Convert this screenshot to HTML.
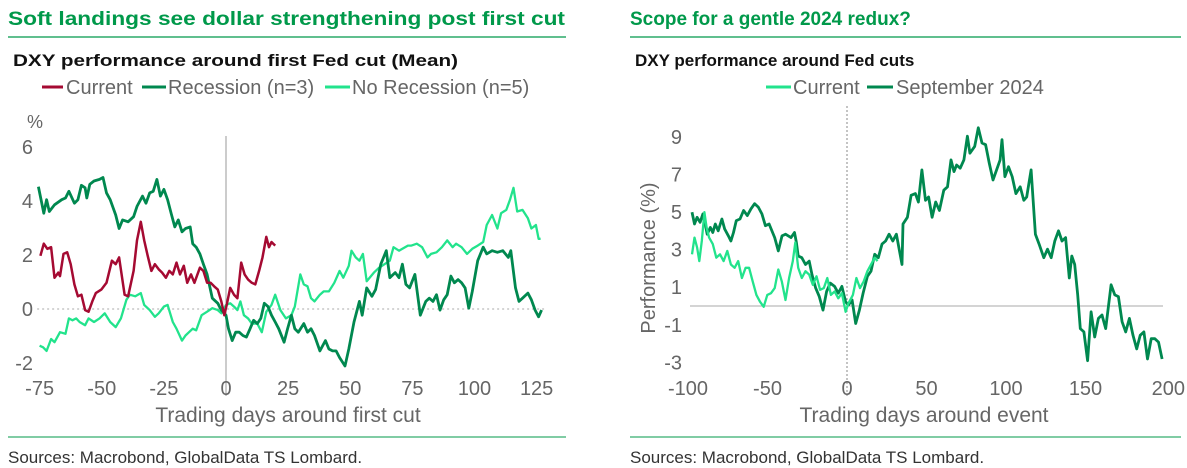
<!DOCTYPE html>
<html><head><meta charset="utf-8"><style>
body{margin:0;background:#fff;width:1187px;height:468px;overflow:hidden;font-family:"Liberation Sans",sans-serif;}
svg{position:absolute;left:0;top:0}
</style></head><body>
<svg width="1187" height="468" id="svg" font-family="Liberation Sans, sans-serif">
<g>
<text x="8" y="25" font-size="19" font-weight="bold" fill="#00994a" textLength="557" lengthAdjust="spacingAndGlyphs">Soft landings see dollar strengthening post first cut</text>
<line x1="8" y1="37" x2="566" y2="37" stroke="#00994a" stroke-width="1.2"/>
<text x="13" y="66" font-size="17" font-weight="bold" fill="#111" textLength="445" lengthAdjust="spacingAndGlyphs">DXY performance around first Fed cut (Mean)</text>
<g font-size="20" fill="#666">
<line x1="42" y1="87" x2="63" y2="87" stroke="#a50a32" stroke-width="3"/>
<text x="66" y="94">Current</text>
<line x1="142" y1="87" x2="166" y2="87" stroke="#00884f" stroke-width="3"/>
<text x="168" y="94">Recession (n=3)</text>
<line x1="325" y1="87" x2="350" y2="87" stroke="#22e38c" stroke-width="3"/>
<text x="352" y="94">No Recession (n=5)</text>
</g>
<text x="27" y="128" font-size="18" fill="#666">%</text>
<g id="L"></g>
<text x="288" y="422" text-anchor="middle" font-size="21" fill="#666">Trading days around first cut</text>
<line x1="8" y1="437" x2="566" y2="437" stroke="#00994a" stroke-width="1"/>
<text x="8" y="463" font-size="17" fill="#333">Sources: Macrobond, GlobalData TS Lombard.</text>
</g>
<g>
<text x="630" y="25" font-size="19" font-weight="bold" fill="#00994a">Scope for a gentle 2024 redux?</text>
<line x1="630" y1="37" x2="1181" y2="37" stroke="#00994a" stroke-width="1.2"/>
<text x="635" y="66" font-size="17" font-weight="bold" fill="#111">DXY performance around Fed cuts</text>
<g font-size="20" fill="#666">
<line x1="766" y1="87" x2="791" y2="87" stroke="#22e38c" stroke-width="3"/>
<text x="793" y="94">Current</text>
<line x1="867" y1="87" x2="893" y2="87" stroke="#00884f" stroke-width="3"/>
<text x="896" y="94">September 2024</text>
</g>
<text transform="translate(655,258) rotate(-90)" text-anchor="middle" font-size="20" fill="#666">Performance (%)</text>
<g id="R"></g>
<text x="924" y="422" text-anchor="middle" font-size="21" fill="#666">Trading days around event</text>
<line x1="630" y1="437" x2="1181" y2="437" stroke="#00994a" stroke-width="1"/>
<text x="630" y="463" font-size="17" fill="#333">Sources: Macrobond, GlobalData TS Lombard.</text>
</g>
</svg>
<script>
// ---- left chart data ----
const leftXTicks=[-75,-50,-25,0,25,50,75,100,125];
const leftYTicks=[-2,0,2,4,6];
const currentDays=[-74.7,-73.3,-71.9,-70.4,-69,-67.5,-66.8,-65.4,-63.9,-62.5,-61,-59.6,-58.2,-56.7,-55.3,-53.8,-52.4,-50.2,-48.1,-45.9,-44.4,-43,-40.8,-39.4,-37.2,-35.8,-34.3,-32.9,-31.5,-30,-28.6,-27.1,-25.7,-24.2,-22.8,-21.4,-19.9,-18.5,-17,-15.6,-14.1,-12.7,-10.5,-9.1,-7.6,-6.2,-4.8,-3.3,-1.9,-0.7,0.3,1.7,3.2,4.6,6.1,7.5,8.9,10.4,11.8,13.3,14.7,16.2,17.3,18.3,19.8];
const currentValues=[1.97,2.42,2.23,2.29,1.16,1.35,1.22,2.04,2.1,1.66,0.91,0.47,0.53,-0.04,-0.1,0.28,0.59,0.72,0.97,1.79,1.66,1.91,0.53,0.47,1.41,2.54,3.23,2.54,1.97,1.41,1.66,1.47,1.35,1.16,1.41,1.28,1.72,1.28,1.6,0.97,1.28,0.97,1.53,1.41,0.97,0.97,0.84,0.72,0.28,-0.23,0.15,0.78,0.53,0.4,1.72,1.28,1.09,0.97,0.91,1.41,1.91,2.67,2.29,2.48,2.35];
const recessionDays=[-75.5,-73.3,-72.2,-71.1,-69,-66.1,-64.6,-63.2,-61,-59.6,-58.2,-56.7,-56,-54.8,-53.1,-50.9,-49.5,-48.1,-46.6,-44.4,-43,-41.6,-39.4,-37.2,-35.8,-33.6,-32.2,-30.7,-29.3,-27.8,-26.4,-25,-23.5,-22.1,-20.6,-19.2,-17.7,-16.3,-14.4,-13.4,-12,-10.5,-9.1,-7.6,-5.5,-3.3,-1.9,0,1,2.5,3.9,5.3,6.8,8.2,9.7,11.1,12.6,14,15.4,16.9,18.3,19.8,21.2,23.4,24.8,26.3,27.7,29.1,31.3,32.8,34.2,35.6,37.8,40,41.4,42.9,44.3,45.7,47.9,49.4,51.5,53.7,54.8,56.6,58.7,60.2,62.3,64.5,65.9,68.1,69.6,71,72.4,73.9,76,78.2,80.4,81.8,83.3,84.7,86.1,87.6,89,90.5,91.9,93.4,94.8,96.2,97.7,99.1,101.3,103.5,104.9,107.1,109.2,111.4,113.6,114.6,116.5,117.9,119.3,121.5,122.9,124.4,125.8,127];
const recessionValues=[4.53,3.55,4.05,3.61,3.86,4.05,4.11,4.36,3.92,4.05,4.58,4.49,4.11,4.62,4.74,4.8,4.87,4.3,4.05,3.48,2.98,3.3,3.23,3.42,3.8,4.18,3.92,4.3,4.36,4.8,4.18,4.43,4.05,3.55,3.04,3.3,2.86,2.98,3.04,2.42,2.29,2.04,1.66,1.28,0.4,0.21,-0.04,-0.23,-0.73,-1.17,-0.86,-0.86,-0.98,-1.04,-0.73,-0.42,-0.54,-0.35,0.21,0.09,-0.23,-0.48,-0.73,-1.23,-0.73,-0.23,-0.73,-0.86,-0.54,-0.86,-0.73,-0.98,-1.55,-1.17,-1.48,-1.55,-1.55,-1.8,-2.11,-1.48,-0.48,0.28,-0.23,0.78,0.47,0.72,1.66,2.16,1.16,1.35,1.16,1.66,0.91,0.78,1.28,-0.23,0.28,0.4,0.28,0.53,-0.04,0.34,0.53,1.22,0.97,1.09,0.97,0.78,0.03,0.65,1.79,2.29,2.04,2.16,2.1,2.16,1.91,2.16,0.78,0.28,0.4,0.59,0.34,-0.04,-0.29,-0.04];
const noRecDays=[-75,-73.6,-72.2,-70.4,-69,-66.8,-64.6,-63.2,-61.8,-60.3,-58.9,-56.7,-55.3,-53.1,-50.9,-48.8,-46.6,-44.4,-42.3,-40.1,-38.7,-36.5,-34.3,-32.9,-30.7,-28.6,-27.1,-25,-23.5,-21.4,-19.9,-17.7,-16.3,-14.9,-13.4,-12,-9.8,-7.6,-5.5,-3.3,-1.9,0,1.7,3.2,4.6,5.8,7.2,8.9,10.4,12.6,14.4,16.2,18.3,19.8,21.9,24.1,26.3,27.7,29.9,31.3,32.8,34.2,35.6,37.8,39.3,41.4,43.6,45.7,47.2,49.4,50.5,52.2,53.7,55.1,56.6,59.5,61.6,63.8,65.9,67.4,69.6,71,73.2,74.6,76.8,78.9,81.1,82.5,84.7,86.9,89,91.2,92.6,94.8,97,99.1,101.3,103.5,104.9,107.1,109.2,110.7,112.8,114.3,115.7,117.2,119.3,121.5,122.9,124.7,125.8,126.6];
const noRecValues=[-1.36,-1.42,-1.55,-1.11,-1.23,-0.86,-0.92,-0.35,-0.42,-0.35,-0.48,-0.6,-0.35,-0.48,-0.35,-0.16,-0.48,-0.67,-0.35,0.34,0.53,0.47,0.59,0.15,-0.04,-0.29,-0.16,0.09,0.15,-0.48,-0.73,-1.17,-0.98,-0.86,-0.73,-0.79,-0.23,-0.1,0.03,-0.04,-0.16,0.15,0.21,0.09,-0.04,0.28,-0.23,-0.35,-0.54,-0.54,-0.86,-0.1,0.15,0.53,-0.04,-0.35,-0.23,0.09,1.28,0.91,0.84,0.4,0.28,0.53,0.65,0.65,0.97,1.41,1.16,1.6,2.16,1.91,1.79,2.04,1.03,1.35,1.53,1.66,1.79,2.29,2.16,2.23,2.35,2.35,2.42,2.29,1.91,2.04,2.1,2.29,2.54,2.29,2.42,2.29,2.04,2.23,2.35,2.48,3.11,3.48,2.98,3.55,3.67,4.05,4.49,3.61,3.67,3.36,2.98,3.11,2.6,2.6];
// ---- right chart data ----
const rightXTicks=[-100,-50,0,50,100,150,200];
const rightYTicks=[-3,-1,1,3,5,7,9];
const rCurrentDays=[-97.5,-95.9,-94.3,-92.9,-91.3,-89.7,-88.3,-86.7,-84.4,-82.2,-79.9,-77.6,-75.3,-73,-70.7,-68.4,-66.1,-63.8,-61.6,-59.3,-57,-54.7,-52.4,-50.1,-47.8,-45.5,-43.2,-41,-38.7,-36.4,-34.1,-32.5,-30.7,-28.4,-26.1,-23.8,-21.5,-19.2,-16.9,-14.6,-12.4,-10.1,-7.8,-5.5,-3.2,-0.9,0.9,3.7,5.9,8.2,10.5,12.8,15.1,17.4,19.2];
const rCurrentValues=[2.75,3.64,3.11,2.39,3.46,4.99,4.18,3.64,3.29,2.57,2.75,2.39,2.93,2.21,2.03,2.39,1.49,2.03,2.03,1.31,0.59,0.23,-0.04,0.59,0.68,0.95,1.94,1.31,0.32,1.49,2.39,3.38,2.03,1.49,1.85,1.67,1.13,1.58,0.86,0.95,1.49,0.59,0.77,0.41,0.68,-0.31,0.14,0.59,1.49,0.95,1.31,1.85,2.21,2.57,2.39];
const sep24Days=[-97.5,-95.9,-94.3,-92.4,-90.6,-89,-87.9,-86,-84.4,-82.8,-81,-78.7,-76.9,-74.6,-73,-71.4,-69.6,-67.3,-65,-62.7,-60.4,-58.1,-55.8,-53.5,-51.3,-49,-45.5,-43.2,-40.9,-38.7,-35.2,-33,-31.8,-30.7,-28.4,-26.1,-23.8,-22,-19.7,-17.4,-15.1,-12.8,-10.5,-7.8,-5.5,-3.2,-0.9,0.9,3.2,5.5,7.8,10.1,12.8,15.1,17.4,19.7,22,24.3,26.5,28.8,31.1,34.6,35.2,38,40.3,43,44.9,47.1,49.4,51.3,53.5,55.8,58.1,60.9,63.2,65.4,67.3,68.9,71.2,73.5,75.7,77.3,80.3,82.6,84.9,87.2,89.5,91.8,94.1,96.3,97.5,99.3,101.6,103.9,106.2,108.9,111.2,113,115.8,118.5,120.8,123.8,126.1,128.4,130.7,133,135.2,137.5,139.8,141.4,143.2,145.1,146.7,149,151.3,153.5,155.8,158.1,160.4,162.7,166.1,168.4,170.7,173,175.3,177.6,179.9,182.2,184.4,186.7,189,191.3,193.6,195.9,198.2];
const sep24Values=[4.99,4.36,4.72,4.45,4.9,4.27,3.82,4.18,3.91,4.36,4.0,4.63,4.09,3.73,3.46,3.91,4.54,4.63,5.08,4.81,5.17,5.44,5.26,4.9,4.27,4.36,3.64,2.93,3.73,3.82,3.64,3.91,3.38,2.66,2.57,2.21,2.39,1.67,0.95,0.5,-0.22,0.77,1.22,1.04,0.68,1.04,0.23,0.05,0.32,-0.93,-0.22,0.68,1.58,1.85,2.75,2.57,3.29,3.46,3.82,3.46,3.82,2.21,4.36,4.72,5.89,5.98,5.53,7.24,5.62,5.8,4.72,5.53,5.08,6.16,6.34,7.77,7.15,7.5,7.33,7.77,9.03,8.13,8.49,9.48,8.67,8.58,7.59,6.7,7.24,7.77,8.85,6.88,7.41,6.88,5.98,6.34,5.62,5.8,7.24,3.82,3.29,2.57,3.02,2.57,3.46,4.0,3.46,3.64,1.49,2.66,2.21,0.59,-1.2,-1.38,-2.91,-0.31,-1.65,-0.66,-0.48,-1.2,1.13,0.59,0.5,-0.84,-1.38,-0.66,-1.56,-2.28,-1.56,-1.38,-2.82,-1.74,-1.74,-1.92,-2.82];

const NS='http://www.w3.org/2000/svg';
function mk(parent,tag,attrs){const e=document.createElementNS(NS,tag);for(const k in attrs)e.setAttribute(k,attrs[k]);parent.appendChild(e);return e;}
const lx=d=>226+d*2.485, ly=v=>309-v*27;
const rx=d=>847+d*1.59, ry=v=>306-v*18.8;
function path(xs,ys,fx,fy){let s='';const n=Math.min(xs.length,ys.length);for(let i=0;i<n;i++)s+=(i?'L':'M')+fx(xs[i]).toFixed(1)+','+fy(ys[i]).toFixed(1);return s;}
const L=document.getElementById('L'), R=document.getElementById('R');
let z=mk(L,'line',{x1:lx(-76),x2:lx(128),y1:ly(0),y2:ly(0),stroke:'#aaa','stroke-dasharray':'2,3','stroke-width':1});


let vl=mk(L,'line',{x1:lx(0),x2:lx(0),y1:136,y2:396,stroke:'#999','stroke-width':1});


leftYTicks.forEach(t=>{const e=mk(L,'text',{x:33,y:ly(t)+7,'text-anchor':'end','font-size':20,fill:'#666'});e.textContent=t;

});
leftXTicks.forEach(t=>{const e=mk(L,'text',{x:lx(t),y:395,'text-anchor':'middle','font-size':20,fill:'#666'});e.textContent=t;

});
let p1=mk(L,'path',{d:path(noRecDays,noRecValues,lx,ly),fill:'none',stroke:'#22e38c','stroke-width':2.3,'stroke-linejoin':'round'});


let p2=mk(L,'path',{d:path(recessionDays,recessionValues,lx,ly),fill:'none',stroke:'#00884f','stroke-width':2.8,'stroke-linejoin':'round'});


let p3=mk(L,'path',{d:path(currentDays,currentValues,lx,ly),fill:'none',stroke:'#a50a32','stroke-width':2.5,'stroke-linejoin':'round'});


let z2=mk(R,'line',{x1:690,x2:1163,y1:ry(0),y2:ry(0),stroke:'#aaa','stroke-width':1});


let vl2=mk(R,'line',{x1:rx(0),x2:rx(0),y1:106,y2:396,stroke:'#888','stroke-dasharray':'2,2','stroke-width':1});


rightYTicks.forEach(t=>{const e=mk(R,'text',{x:682,y:ry(t)+7,'text-anchor':'end','font-size':20,fill:'#666'});e.textContent=t;

});
rightXTicks.forEach(t=>{const last=t===rightXTicks[rightXTicks.length-1];const e=mk(R,'text',{x:last?1185:rx(t),y:395,'text-anchor':last?'end':'middle','font-size':20,fill:'#666'});e.textContent=t;

});
let p4=mk(R,'path',{d:path(sep24Days,sep24Values,rx,ry),fill:'none',stroke:'#00884f','stroke-width':2.8,'stroke-linejoin':'round'});


let p5=mk(R,'path',{d:path(rCurrentDays,rCurrentValues,rx,ry),fill:'none',stroke:'#22e38c','stroke-width':2.3,'stroke-linejoin':'round'});


</script>
</body></html>
